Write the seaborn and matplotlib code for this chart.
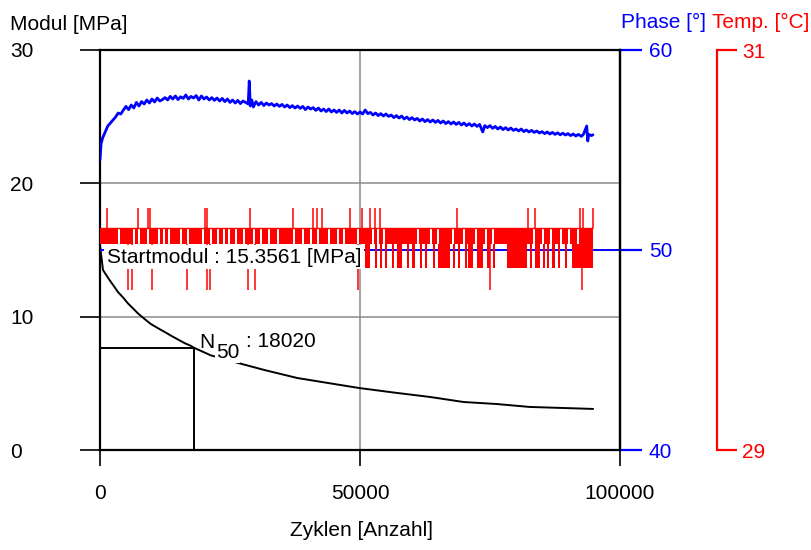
import matplotlib
matplotlib.use("Agg")
import matplotlib.pyplot as plt
import seaborn as sns

# ---------------- data ----------------
# stiffness modulus [MPa] over load cycles
modul_cycles = [0, 575, 1600, 2560, 3450, 4480, 5360, 6400, 7280, 8650,
                9770, 11210, 12450, 13770, 14940, 16350, 17430, 18020, 21300, 25860,
                31610, 37930, 44250, 49810, 57090, 63410, 69920, 76250, 82570, 89080,
                94830]
modul_values = [15.3561, 13.5, 12.88, 12.35, 11.85, 11.42, 11.0, 10.6, 10.25, 9.8,
                9.45, 9.12, 8.85, 8.55, 8.3, 8.0, 7.82, 7.678, 7.1, 6.6,
                6.0, 5.4, 5.0, 4.65, 4.28, 3.98, 3.6, 3.45, 3.23, 3.15,
                3.08]
start_modul = 15.3561
n50 = 18020

# phase angle [deg] over load cycles
phase_cycles = [
    0, 200, 500, 1000, 1500, 2000, 2500, 3000, 3500, 4000,
    4500, 5000, 5500, 6000, 6500, 7000, 7500, 8000, 8500, 9000,
    9500, 10000, 10500, 11000, 11500, 12000, 12500, 13000, 13500, 14000,
    14500, 15000, 15500, 16000, 16500, 17000, 17500, 18000, 18500, 19000,
    19500, 20000, 20500, 21000, 21500, 22000, 22500, 23000, 23500, 24000,
    24500, 25000, 25500, 26000, 26500, 27000, 27500, 28000, 28500, 28700,
    28900, 29200, 29500, 30000, 30500, 31000, 31500, 32000, 32500, 33000,
    33500, 34000, 34500, 35000, 35500, 36000, 36500, 37000, 37500, 38000,
    38500, 39000, 39500, 40000, 40500, 41000, 41500, 42000, 42500, 43000,
    43500, 44000, 44500, 45000, 45500, 46000, 46500, 47000, 47500, 48000,
    48500, 49000, 49500, 50000, 50500, 51000, 51500, 52000, 52500, 53000,
    53500, 54000, 54500, 55000, 55500, 56000, 56500, 57000, 57500, 58000,
    58500, 59000, 59500, 60000, 60500, 61000, 61500, 62000, 62500, 63000,
    63500, 64000, 64500, 65000, 65500, 66000, 66500, 67000, 67500, 68000,
    68500, 69000, 69500, 70000, 70500, 71000, 71500, 72000, 72500, 73000,
    73600, 74000, 74500, 75000, 75500, 76000, 76500, 77000, 77500, 78000,
    78500, 79000, 79500, 80000, 80500, 81000, 81500, 82000, 82500, 83000,
    83500, 84000, 84500, 85000, 85500, 86000, 86500, 87000, 87500, 88000,
    88500, 89000, 89500, 90000, 90500, 91000, 91500, 92000, 92600, 93000,
    93600, 93800, 94000, 94500, 94800]
phase_values = [
    54.5, 55.3, 55.6, 55.9, 56.2, 56.35, 56.5, 56.65, 56.85, 56.8,
    57.0, 57.18, 57.02, 57.25, 57.1, 57.38, 57.2, 57.42, 57.3, 57.5,
    57.35, 57.55, 57.4, 57.6, 57.45, 57.52, 57.62, 57.5, 57.68, 57.55,
    57.7, 57.52, 57.66, 57.58, 57.75, 57.55, 57.68, 57.6, 57.72, 57.5,
    57.7, 57.55, 57.65, 57.5, 57.62, 57.48, 57.6, 57.45, 57.58, 57.42,
    57.55, 57.38, 57.5, 57.35, 57.48, 57.32, 57.45, 57.38, 57.3, 58.45,
    57.2, 57.5, 57.15, 57.42, 57.25, 57.38, 57.22, 57.35, 57.25, 57.32,
    57.2, 57.3, 57.18, 57.28, 57.15, 57.25, 57.12, 57.22, 57.1, 57.2,
    57.08, 57.18, 57.02, 57.15, 57.05, 57.12, 56.98, 57.1, 56.95, 57.05,
    56.92, 57.05, 56.9, 57.0, 56.88, 57.0, 56.85, 56.98, 56.85, 56.95,
    56.82, 56.92, 56.8, 56.9, 56.8, 57.0, 56.82, 56.88, 56.75, 56.85,
    56.72, 56.82, 56.7, 56.8, 56.68, 56.75, 56.62, 56.72, 56.6, 56.7,
    56.55, 56.65, 56.52, 56.62, 56.5, 56.58, 56.45, 56.55, 56.42, 56.52,
    56.4, 56.5, 56.38, 56.48, 56.35, 56.45, 56.32, 56.42, 56.3, 56.4,
    56.28, 56.38, 56.25, 56.35, 56.22, 56.32, 56.2, 56.3, 56.18, 56.28,
    55.9, 56.22, 56.12, 56.22, 56.08, 56.18, 56.05, 56.15, 56.02, 56.12,
    56.0, 56.1, 55.98, 56.05, 55.95, 56.05, 55.92, 56.0, 55.9, 55.98,
    55.88, 55.95, 55.85, 55.92, 55.82, 55.9, 55.8, 55.88, 55.78, 55.86,
    55.76, 55.84, 55.75, 55.82, 55.72, 55.8, 55.7, 55.78, 55.68, 55.8,
    56.2, 55.45, 55.78, 55.72, 55.76]

# temperature [degC]: sensor toggles between discrete levels
temp_end = 94870
temp_upper = 30.11
temp_lower = 30.03
temp_dip = 29.91
temp_peak_hi = 30.21
temp_peak_lo = 29.80
# cycles where the reading briefly left the upper/lower toggle band
temp_band_gaps = [3520, 6400, 7370, 9100, 11210, 12170, 13130, 15440, 16790, 19670,
                  21210, 22560, 23710, 24670, 26020, 27560, 29480, 30830, 32370, 34100,
                  37170, 38900, 40440, 41790, 43900, 45630, 46790, 49480,
                  52350, 53310, 54480, 61020, 63520, 64870, 67750, 69870, 72170, 74100,
                  75440, 83330, 85060, 86600, 88520, 90060, 91790]
# periods with readings down at the lower level (second half of the test)
temp_dip_start = [51020, 52940, 53900, 54870, 56210, 57170, 59100, 60060, 61600, 62560,
                  64100, 65060, 67940, 68900, 70250, 70830, 72560, 74480, 75630, 78330,
                  82750, 83710, 85250, 86020, 86980, 88130, 89480, 90830]
temp_dip_end = [51980, 53190, 54150, 55250, 56460, 58130, 59350, 60640, 61850, 62940,
                64350, 67370, 68330, 69290, 70500, 71790, 73710, 75060, 76020, 82170,
                83000, 84670, 85500, 86270, 87560, 88380, 89870, 94870]
# single readings up / down
temp_peaks_up = [1290, 7370, 9290, 9620, 20190, 20520, 28850, 37170, 41020, 41670,
                 42630, 48080, 50330, 51920, 52880, 53850, 68600, 82370, 83650,
                 92310, 92940, 94870]
temp_peaks_down = [5440, 6080, 9920, 16650, 20500, 21150, 28520, 29810, 49670,
                   75000, 92620]

x_ticks = [0, 50000, 100000]
modul_ticks = [0, 10, 20, 30]
phase_ticks = [40, 50, 60]
temp_ticks = [29, 31]

# ---------------- style ----------------
sns.set_theme(style="white")
plt.rcParams["font.family"] = ["Liberation Sans", "DejaVu Sans"]
plt.rcParams["font.size"] = 15
plt.rcParams["text.color"] = "black"
plt.rcParams["xtick.color"] = "black"
plt.rcParams["ytick.color"] = "black"
plt.rcParams["axes.labelcolor"] = "black"

BLUE = "#0000FF"
RED = "#FF0000"
GRID = "#8c8c8c"
PX = 72 / 100  # points per pixel at 100 dpi

W, H = 812, 550
fig = plt.figure(figsize=(W / 100, H / 100), dpi=100)
fig.patch.set_facecolor("white")
ax = fig.add_axes([100 / W, 100 / H, 520 / W, 400 / H])

# ---------------- modulus (left axis) ----------------
sns.lineplot(x=modul_cycles, y=modul_values, ax=ax, color="black",
             lw=1.4, estimator=None, sort=False)
half = start_modul / 2
ax.plot([0, n50], [half, half], color="black", lw=1.4)
ax.plot([n50, n50], [half, 0], color="black", lw=1.4)

ax.set_xlim(0, 100000)
ax.set_ylim(0, 30)
ax.set_xticks(x_ticks)
ax.set_xticklabels([str(v) for v in x_ticks])
ax.set_yticks(modul_ticks)
ax.set_yticklabels([str(v) for v in modul_ticks])
ax.grid(True, color=GRID, lw=1.1)
ax.set_axisbelow(True)
ax.tick_params(axis="y", direction="out", length=20 * PX, width=1.2,
               pad=70 * PX, labelsize=15, left=True, labelcolor="black")
ax.tick_params(axis="x", direction="out", length=16 * PX, width=1.2,
               pad=18 * PX, labelsize=15, bottom=True, labelcolor="black")
for lab in ax.get_yticklabels():
    lab.set_horizontalalignment("left")
for t, v in zip(ax.yaxis.get_major_ticks(), modul_ticks):
    t.tick1line.set_color("black" if v in (0, 30) else GRID)
for t, v in zip(ax.xaxis.get_major_ticks(), x_ticks):
    t.tick1line.set_color("black" if v in (0, 100000) else GRID)
for s in ax.spines.values():
    s.set_color("black")
    s.set_linewidth(1.6)
ax.set_xlabel("")
ax.set_ylabel("")

# ---------------- phase (right axis) ----------------
ax2 = ax.twinx()
ax2.axhline(50, color=BLUE, lw=1.4)
sns.lineplot(x=phase_cycles, y=phase_values, ax=ax2, color=BLUE,
             lw=2.0, estimator=None, sort=False)
ax2.set_ylim(40, 60)
ax2.set_yticks(phase_ticks)
ax2.set_yticklabels([str(v) for v in phase_ticks])
ax2.tick_params(axis="y", direction="out", length=22 * PX, width=1.6,
                color=BLUE, labelcolor=BLUE, pad=7 * PX, labelsize=15, right=True)
for name, s in ax2.spines.items():
    s.set_visible(name == "right")
ax2.spines["right"].set_color("black")
ax2.spines["right"].set_linewidth(1.6)
ax2.set_ylabel("")

# ---------------- temperature (outer right axis) ----------------
ax3 = ax.twinx()
ax3.spines["right"].set_position(("axes", (717 - 100) / 520))
for name, s in ax3.spines.items():
    s.set_visible(name == "right")
ax3.spines["right"].set_color(RED)
ax3.spines["right"].set_linewidth(1.6)
ax3.set_ylim(29, 31)
ax3.set_yticks(temp_ticks)
ax3.set_yticklabels([str(v) for v in temp_ticks])
ax3.tick_params(axis="y", direction="out", length=20 * PX, width=1.6,
                color=RED, labelcolor=RED, pad=5 * PX, labelsize=15, right=True)

# toggle band between the upper and lower level, interrupted at the gaps
gap_w = 260
segs = []
start = 0
for g in sorted(temp_band_gaps):
    segs.append((start, g - start))
    start = g + gap_w
segs.append((start, temp_end - start))
ax3.broken_barh(segs, (temp_lower, temp_upper - temp_lower), facecolors=RED,
                edgecolor="none")
ax3.hlines(temp_upper, 0, temp_end, color=RED, lw=1.0)
ax3.broken_barh([(s, e - s) for s, e in zip(temp_dip_start, temp_dip_end)],
                (temp_dip, temp_lower - temp_dip), facecolors=RED, edgecolor="none")
ax3.vlines(temp_peaks_up, temp_upper, temp_peak_hi, color=RED, lw=1.1)
ax3.vlines(temp_peaks_down, temp_peak_lo, temp_lower, color=RED, lw=1.1)

# ---------------- annotations ----------------
ax3.text(1300, 14.45, f"Startmodul : {start_modul:.4f} [MPa]", transform=ax.transData,
         fontsize=15, va="center", ha="left", zorder=10,
         bbox=dict(facecolor="white", edgecolor="none", pad=1.8))
ax3.text(19100, 7.65, "N", transform=ax.transData, fontsize=15,
         va="baseline", ha="left", zorder=10)
ax3.text(22300, 6.9, "50", transform=ax.transData, fontsize=15,
         va="baseline", ha="left", zorder=10,
         bbox=dict(facecolor="white", edgecolor="none", pad=0.5))
ax3.text(28000, 7.73, f": {n50}", transform=ax.transData, fontsize=15,
         va="baseline", ha="left", zorder=10)

fig.text(10 / W, 1 - 30 / H, "Modul [MPa]", fontsize=15, va="baseline", ha="left")
fig.text(621 / W, 1 - 28 / H, "Phase [°]", fontsize=15, color=BLUE,
         va="baseline", ha="left")
fig.text(712 / W, 1 - 28 / H, "Temp. [°C]", fontsize=15, color=RED,
         va="baseline", ha="left")
fig.text(362 / W, 1 - 530 / H, "Zyklen [Anzahl]", fontsize=15,
         va="center", ha="center")

fig.savefig("out.png", dpi=100)
